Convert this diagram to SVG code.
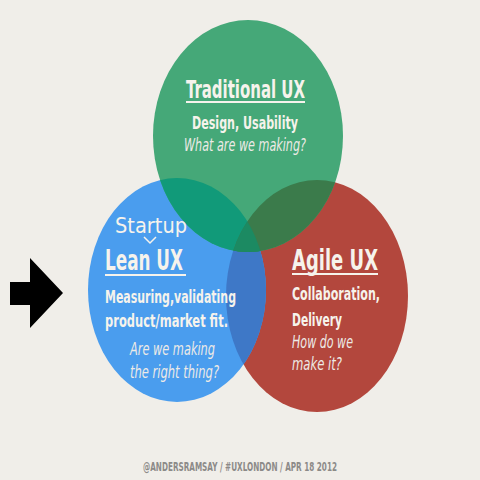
<svg xmlns="http://www.w3.org/2000/svg" width="480" height="480" viewBox="0 0 480 480">
<style>
.t{font-family:"Liberation Sans Narrow","DejaVu Sans Condensed","Liberation Sans",sans-serif;fill:#F6F3EC}
.h{font-weight:bold;font-size:25px}
.hl{font-weight:bold;font-size:28px}
.b{font-weight:bold;font-size:18px}
.i{font-style:italic;font-size:17px;fill:#EDEAE6}
.u{stroke:#F6F3EC;stroke-width:2}
.f{font-family:"Liberation Sans Narrow","DejaVu Sans Condensed","Liberation Sans",sans-serif;font-weight:bold;font-size:12.5px;fill:#8C8A88}
</style>
<defs>
<clipPath id="cg"><ellipse cx="248" cy="136" rx="95" ry="116"/></clipPath>
<clipPath id="cb"><ellipse cx="177" cy="290" rx="89" ry="112"/></clipPath>
<clipPath id="cr"><ellipse cx="317" cy="296" rx="91" ry="116"/></clipPath>
</defs>
<rect width="480" height="480" fill="#F0EEE9"/>
<g id="circles">
<ellipse id="red" cx="317" cy="296" rx="91" ry="116" fill="#B3473D"/>
<ellipse id="blue" cx="177" cy="290" rx="89" ry="112" fill="#4A9DEE"/>
<ellipse id="green" cx="248" cy="136" rx="95" ry="116" fill="#45A878"/>
<ellipse cx="317" cy="296" rx="91" ry="116" fill="#3E78C7" clip-path="url(#cb)"/>
<g clip-path="url(#cg)">
<ellipse cx="177" cy="290" rx="89" ry="112" fill="#119A79"/>
<ellipse cx="317" cy="296" rx="91" ry="116" fill="#3B7B4B"/>
<g clip-path="url(#cb)"><ellipse cx="317" cy="296" rx="91" ry="116" fill="#1C8A62"/></g>
</g>
</g>
<g id="traditional">
<text class="t h" x="186" y="98" textLength="119" lengthAdjust="spacingAndGlyphs">Traditional UX</text>
<line class="u" x1="186" y1="102" x2="305" y2="102"/>
<text class="t b" x="192" y="129" textLength="106" lengthAdjust="spacingAndGlyphs">Design, Usability</text>
<text class="t i" x="184" y="151" textLength="122" lengthAdjust="spacingAndGlyphs">What are we making?</text>
</g>
<g id="lean">
<text x="115" y="233" font-family="DejaVu Sans" font-size="21" fill="#F6F3EC" textLength="72" lengthAdjust="spacingAndGlyphs">Startup</text>
<path d="M144 237 L150 243 L156 237" fill="none" stroke="#F6F3EC" stroke-width="1.5"/>
<text class="t hl" x="105" y="270" textLength="78" lengthAdjust="spacingAndGlyphs">Lean UX</text>
<line class="u" x1="105" y1="275" x2="186" y2="275"/>
<text class="t b" x="105" y="303" textLength="131" lengthAdjust="spacingAndGlyphs">Measuring,validating</text>
<text class="t b" x="105" y="327" textLength="123" lengthAdjust="spacingAndGlyphs">product/market fit.</text>
<text class="t i" x="130" y="355" textLength="85" lengthAdjust="spacingAndGlyphs">Are we making</text>
<text class="t i" x="130" y="378" textLength="89" lengthAdjust="spacingAndGlyphs">the right thing?</text>
</g>
<g id="agile">
<text class="t hl" x="292" y="270" textLength="86" lengthAdjust="spacingAndGlyphs">Agile UX</text>
<line class="u" x1="292" y1="274" x2="378" y2="274"/>
<text class="t b" x="292" y="300" textLength="88" lengthAdjust="spacingAndGlyphs">Collaboration,</text>
<text class="t b" x="292" y="326" textLength="50" lengthAdjust="spacingAndGlyphs">Delivery</text>
<text class="t i" x="292" y="348" textLength="61" lengthAdjust="spacingAndGlyphs">How do we</text>
<text class="t i" x="292" y="370" textLength="50" lengthAdjust="spacingAndGlyphs">make it?</text>
</g>
<g id="arrow">
<polygon points="10,282 30,282 30,258 63,293 30,328 30,305 10,305" fill="#000"/>
</g>
<text class="f" x="143" y="471" textLength="194" lengthAdjust="spacingAndGlyphs">@ANDERSRAMSAY  /  #UXLONDON  /  APR 18 2012</text>
</svg>
